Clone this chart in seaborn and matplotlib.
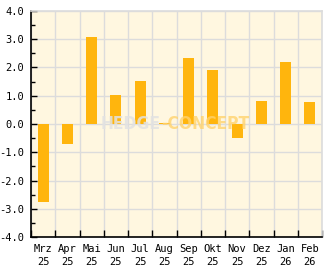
import matplotlib
matplotlib.use("Agg")
import matplotlib.pyplot as plt
import seaborn as sns
import pandas as pd
from matplotlib.ticker import MultipleLocator, FixedLocator

months = ["Mrz", "Apr", "Mai", "Jun", "Jul", "Aug", "Sep", "Okt", "Nov", "Dez", "Jan", "Feb"]
years = ["25", "25", "25", "25", "25", "25", "25", "25", "25", "25", "26", "26"]
values = [-2.77, -0.70, 3.07, 1.02, 1.52, 0.05, 2.33, 1.91, -0.48, 0.81, 2.19, 0.78]

labels = [f"{m}\n{y}" for m, y in zip(months, years)]
df = pd.DataFrame({"label": labels, "value": values})

sns.set_theme(style="white")
plt.rcParams["axes.unicode_minus"] = False
plt.rcParams["font.family"] = ["DejaVu Sans Mono", "DejaVu Sans"]

fig = plt.figure(figsize=(3.32, 2.69), dpi=100)
ax = fig.add_axes([31/332, 31.7/269, 291/332, 226.6/269])
ax.set_facecolor("#fff7e0")

sns.barplot(data=df, x="label", y="value", color="#ffb50d", width=0.45,
            saturation=1, linewidth=0, edgecolor="none", ax=ax, zorder=3)

ax.set_xlim(-0.5, len(labels) - 0.5)
ax.set_ylim(-4, 4)
ax.set_xlabel("")
ax.set_ylabel("")

ax.yaxis.set_major_locator(MultipleLocator(1.0))
ax.yaxis.set_minor_locator(MultipleLocator(0.5))
ax.yaxis.set_major_formatter(matplotlib.ticker.FormatStrFormatter("%.1f"))
ax.xaxis.set_minor_locator(FixedLocator([i - 0.5 for i in range(len(labels) + 1)]))

ax.grid(True, which="major", axis="y", color="#dcdcdc", linewidth=1, zorder=0)
ax.grid(True, which="minor", axis="x", color="#dcdcdc", linewidth=1, zorder=0)
ax.set_axisbelow(True)

ax.tick_params(axis="y", which="major", direction="in", length=4, width=1,
               color="black", labelsize=7.5, pad=5, left=True, labelcolor="black")
ax.tick_params(axis="y", which="minor", direction="in", length=3, width=1,
               color="black", left=True)
ax.tick_params(axis="x", which="major", length=0, labelsize=7.5, pad=5, labelcolor="black")
ax.tick_params(axis="x", which="minor", direction="in", length=5, width=1,
               color="black", bottom=True)
for lab in ax.get_xticklabels():
    lab.set_linespacing(1.35)

for side in ["left", "bottom"]:
    ax.spines[side].set_color("black")
    ax.spines[side].set_linewidth(1.2)
for side in ["top", "right"]:
    ax.spines[side].set_color("#dcdcdc")
    ax.spines[side].set_linewidth(1.2)

# watermark
wm_font = ["DejaVu Sans"]
ax.text(0.447, 0.5, "HEDGE", transform=ax.transAxes, ha="right", va="center",
        fontsize=12.5, fontweight="bold", fontstretch="condensed", family=wm_font,
        color="#e2e2e2", alpha=0.85, zorder=5)
ax.text(0.447, 0.5, "-CONCEPT", transform=ax.transAxes, ha="left", va="center",
        fontsize=12.5, fontweight="bold", fontstretch="condensed", family=wm_font,
        color="#ffd36e", alpha=0.8, zorder=5)

fig.savefig("out.png", dpi=100)
